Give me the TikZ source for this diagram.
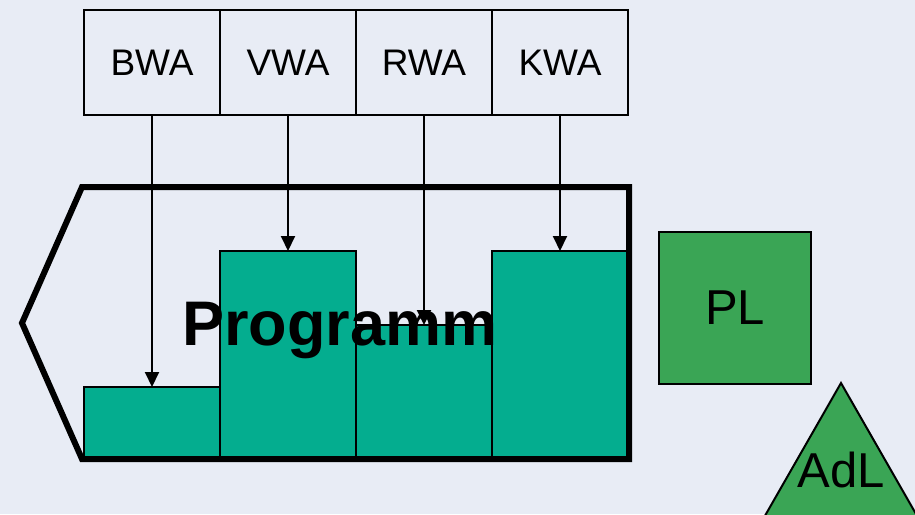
\documentclass[tikz,border=0pt]{standalone}
\usepackage{fontspec}
\setmainfont{Liberation Sans}
\usetikzlibrary{arrows.meta,positioning}
\definecolor{bgblue}{RGB}{232,236,245}
\definecolor{barteal}{RGB}{4,173,143}
\definecolor{plgreen}{RGB}{58,165,85}

\begin{document}
\begin{tikzpicture}[x=1pt, y=-1pt,
  wabox/.style={draw, line width=2pt, minimum width=136pt, minimum height=105pt, inner sep=0pt, outer sep=0pt, font=\fontsize{37}{44}\selectfont},
  bar/.style={draw, line width=2pt, fill=barteal, minimum width=136pt, inner sep=0pt, outer sep=0pt, anchor=south west},
  feed/.style={-{Triangle[length=15pt,width=14pt]}, line width=2pt}]
% Background
\useasboundingbox (0,0) rectangle (915,514);
\clip (0,0) rectangle (915,514);
\fill[bgblue] (0,0) rectangle (915,514);

% Top boxes
\node[wabox] (bwa) at (152,62.5) {BWA};
\node[wabox] (vwa) at (288,62.5) {VWA};
\node[wabox] (rwa) at (424,62.5) {RWA};
\node[wabox] (kwa) at (560,62.5) {KWA};

% Bars
\node[bar, minimum height=72pt] (barB) at (84,459) {};
\node[bar, minimum height=208pt] (barV) at (220,459) {};
\node[bar, minimum height=134pt] (barR) at (356,459) {};
\node[bar, minimum height=208pt] (barK) at (492,459) {};

% Programm outline
\draw[line width=6pt, line join=miter] (82,187) -- (629,187) -- (629,459) -- (82,459) -- (22,323) -- cycle;

% Arrows
\draw[feed] (bwa.south) -- (barB.north);
\draw[feed] (vwa.south) -- (barV.north);
\draw[feed] (rwa.south) -- (barR.north);
\draw[feed] (kwa.south) -- (barK.north);

\node[font=\fontsize{63}{72}\selectfont\bfseries, anchor=base] (prog) at (340,345) {Programm};

% PL and AdL
\node[draw, line width=2pt, fill=plgreen, minimum size=152pt, inner sep=0pt, font=\fontsize{49}{58}\selectfont] (pl) at (735,308) {PL};
\draw[line width=2pt, fill=plgreen] (841,383) -- (918.3,518) -- (763.7,518) -- cycle;
\node[font=\fontsize{49}{58}\selectfont] (adl) at (841,470) {AdL};
\end{tikzpicture}
\end{document}
